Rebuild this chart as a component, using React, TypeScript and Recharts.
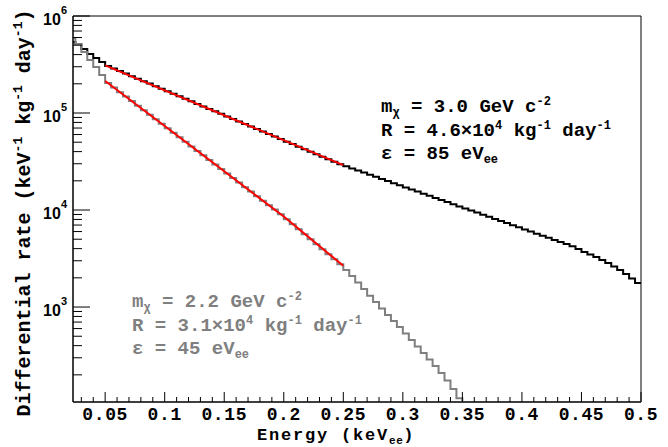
import React from 'react';
import { LineChart, Line, XAxis, YAxis, ReferenceArea } from 'recharts';

// ---- binning (histogram left edges) ----
const BIN_START = 0.02;
const BIN_WIDTH = 0.005;
const X_MIN = 0.023;
const X_MAX = 0.5;
const Y_MIN = 105;
const Y_MAX = 1000000;

// ---- series: differential rate per bin (keV^-1 kg^-1 day^-1) ----
const BLACK_RATE = [
  540000, 514000, 457000, 406000, 369000, 336000, 305000, 287000, 271000, 255000,
  240000, 226000, 213000, 201000, 189000, 178000, 168000, 158000, 149000, 140000,
  132000, 124000, 117000, 110000, 104000, 98000, 92300, 86900, 81900, 77100,
  72600, 68400, 64400, 60700, 57200, 53900, 50700, 47800, 45000, 42400,
  39900, 37600, 35400, 33400, 31400, 29600, 28200, 26800, 25500, 24300,
  23100, 22000, 20900, 19900, 18900, 18000, 17100, 16300, 15500, 14700,
  14000, 13300, 12700, 12100, 11500, 10900, 10400, 9890, 9410, 8950,
  8520, 8100, 7710, 7330, 6980, 6640, 6310, 6010, 5710, 5440,
  5170, 4920, 4680, 4460, 4240, 3960, 3690, 3480, 3280, 3050,
  2840, 2620, 2410, 2190, 1970, 1770,
];

const GRAY_RATE = [
  593000, 514000, 425000, 352000, 298000, 246000, 204000, 183000, 164000, 148000,
  133000, 119000, 107000, 96100, 86400, 77600, 69700, 62600, 56200, 50500,
  45300, 40700, 36600, 32800, 29500, 26500, 23800, 21400, 19200, 17200,
  15500, 13900, 12500, 11200, 10100, 9050, 8040, 7140, 6340, 5630,
  5000, 4440, 3940, 3500, 3110, 2760, 2410, 2090, 1790, 1530,
  1310, 1130, 965, 827, 717, 622, 533, 457, 392, 336,
  288, 247, 209, 175, 143, 115, 0, 0, 0, 0,
  0, 0, 0, 0, 0, 0, 0, 0, 0, 0,
  0, 0, 0, 0, 0, 0, 0, 0, 0, 0,
  0, 0, 0, 0, 0, 0,
];

// ---- exponential fits (red) ----
const FIT_BLACK_E = [0.05, 0.25];
const FIT_BLACK_RATE = [310000, 29000];
const FIT_GRAY_E = [0.05, 0.1, 0.15, 0.2, 0.25];
const FIT_GRAY_RATE = [214000, 73500, 25100, 8570, 2660];

// ---- ticks ----
const X_TICKS = [
  0.03, 0.04, 0.05, 0.06, 0.07, 0.08, 0.09, 0.1, 0.11, 0.12, 0.13, 0.14, 0.15, 0.16,
  0.17, 0.18, 0.19, 0.2, 0.21, 0.22, 0.23, 0.24, 0.25, 0.26, 0.27, 0.28, 0.29, 0.3,
  0.31, 0.32, 0.33, 0.34, 0.35, 0.36, 0.37, 0.38, 0.39, 0.4, 0.41, 0.42, 0.43, 0.44,
  0.45, 0.46, 0.47, 0.48, 0.49, 0.5,
];
const X_MAJOR = [0.05, 0.1, 0.15, 0.2, 0.25, 0.3, 0.35, 0.4, 0.45, 0.5];
const X_TICK_LABELS = ['0.05', '0.1', '0.15', '0.2', '0.25', '0.3', '0.35', '0.4', '0.45', '0.5'];
const Y_TICKS = [
  200, 300, 400, 500, 600, 700, 800, 900,
  1000, 2000, 3000, 4000, 5000, 6000, 7000, 8000, 9000,
  10000, 20000, 30000, 40000, 50000, 60000, 70000, 80000, 90000,
  100000, 200000, 300000, 400000, 500000, 600000, 700000, 800000, 900000,
  1000000,
];

// ---- annotation texts ----
const NOTE_BLACK = ['3.0', '4.6', '85'];
const NOTE_GRAY = ['2.2', '3.1', '45'];

const MONO = "'Liberation Mono', 'Courier New', monospace";
const SANS = "'Liberation Sans', Arial, Helvetica, sans-serif";
const GRAY = '#7f7f7f';

const HIST = BLACK_RATE.map((b, i) => ({
  e: +(BIN_START + i * BIN_WIDTH).toFixed(4),
  black: b,
  gray: Math.max(GRAY_RATE[i], Y_MIN),
}));
HIST.push({
  e: X_MAX,
  black: BLACK_RATE[BLACK_RATE.length - 1],
  gray: Math.max(GRAY_RATE[GRAY_RATE.length - 1], Y_MIN),
});

const FIT_BLACK = FIT_BLACK_E.map((e, i) => ({ e, fit: FIT_BLACK_RATE[i] }));
const FIT_GRAY = FIT_GRAY_E.map((e, i) => ({ e, fit: FIT_GRAY_RATE[i] }));

function XTick(props: any) {
  const { x, y, payload } = props;
  const v = payload.value;
  const idx = X_MAJOR.findIndex((m) => Math.abs(m - v) < 1e-6);
  const major = idx >= 0;
  return (
    <g>
      <line x1={x} x2={x} y1={y} y2={y - (major ? 10 : 5)} stroke="#000" strokeWidth={1} />
      {major && (
        <text x={x} y={y + 18} textAnchor="middle" fontFamily={MONO} fontWeight="bold" fontSize={18} letterSpacing={0.6} fill="#000">
          {X_TICK_LABELS[idx]}
        </text>
      )}
    </g>
  );
}

function YTick(props: any) {
  const { x, y, payload } = props;
  const v = payload.value;
  const exp = Math.round(Math.log10(v));
  const major = Math.abs(Math.pow(10, exp) - v) < 1e-6 * v;
  return (
    <g>
      <line x1={x} x2={x + (major ? 17 : 9)} y1={y} y2={y} stroke="#000" strokeWidth={1} />
      {major && (
        <text x={x - 6} y={y + 8.5} textAnchor="end" fontFamily={SANS} fontWeight="bold" fontSize={16} fill="#000">
          10<tspan fontSize={11} dy={-11}>{exp}</tspan>
        </text>
      )}
    </g>
  );
}

function Note({ x, y, color, vals }: { x: number; y: number; color: string; vals: string[] }) {
  const lh = 23.5;
  const sm = 12;
  const st = { whiteSpace: 'pre' as const };
  return (
    <g fill={color} fontFamily={MONO} fontWeight="bold" fontSize={19}>
      <text x={x} y={y} style={st}>
        m<tspan fontSize={sm} dy={4}>χ</tspan>
        <tspan dy={-4}>{' = ' + vals[0] + ' GeV c'}</tspan>
        <tspan fontSize={sm} dy={-7}>-2</tspan>
      </text>
      <text x={x} y={y + lh} style={st}>
        {'R = ' + vals[1] + '×10'}
        <tspan fontSize={sm} dy={-7}>4</tspan>
        <tspan dy={7}>{' kg'}</tspan>
        <tspan fontSize={sm} dy={-7}>-1</tspan>
        <tspan dy={7}>{' day'}</tspan>
        <tspan fontSize={sm} dy={-7}>-1</tspan>
      </text>
      <text x={x} y={y + 2 * lh} style={st}>
        {'ε = ' + vals[2] + ' eV'}
        <tspan fontSize={sm} dy={4}>ee</tspan>
      </text>
    </g>
  );
}

export default function App() {
  return (
    <div style={{ position: 'absolute', left: 0, top: 0, width: 668, height: 447, background: '#fff' }}>
      <LineChart width={668} height={447} data={HIST} margin={{ top: 16, right: 27, left: 0, bottom: 0 }}>
        <XAxis
          dataKey="e"
          type="number"
          domain={[X_MIN, X_MAX]}
          allowDataOverflow
          ticks={X_TICKS}
          interval={0}
          tick={<XTick />}
          tickLine={false}
          tickSize={0}
          tickMargin={0}
          axisLine={{ stroke: '#000', strokeWidth: 1 }}
          height={45}
        />
        <YAxis
          type="number"
          scale="log"
          domain={[Y_MIN, Y_MAX]}
          allowDataOverflow
          ticks={Y_TICKS}
          interval={0}
          tick={<YTick />}
          tickLine={false}
          tickSize={0}
          tickMargin={0}
          axisLine={{ stroke: '#000', strokeWidth: 1 }}
          width={73}
        />
        <ReferenceArea x1={X_MIN} x2={X_MAX} y1={Y_MIN} y2={Y_MAX} fill="none" fillOpacity={0} stroke="#000" strokeWidth={1} />
        <Line dataKey="black" type="stepAfter" stroke="#000" strokeWidth={2} dot={false} activeDot={false} isAnimationActive={false} />
        <Line dataKey="gray" type="stepAfter" stroke={GRAY} strokeWidth={2} dot={false} activeDot={false} isAnimationActive={false} />
        <Line data={FIT_BLACK} dataKey="fit" type="linear" stroke="#ff0000" strokeWidth={2} dot={false} activeDot={false} isAnimationActive={false} />
        <Line data={FIT_GRAY} dataKey="fit" type="linear" stroke="#ff0000" strokeWidth={2} dot={false} activeDot={false} isAnimationActive={false} />
      </LineChart>
      <svg width={668} height={447} style={{ position: 'absolute', left: 0, top: 0, pointerEvents: 'none' }}>
        <Note x={381} y={112} color="#000" vals={NOTE_BLACK} />
        <Note x={132} y={307} color={GRAY} vals={NOTE_GRAY} />
        <text x={257} y={440} fontFamily={MONO} fontWeight="bold" fontSize={17} letterSpacing={1.8} fill="#000" style={{ whiteSpace: 'pre' }}>
          {'Energy (keV'}
          <tspan fontSize={11} dy={4} letterSpacing={0.5}>ee</tspan>
          <tspan dy={-4}>)</tspan>
        </text>
        <text
          transform="translate(30, 213) rotate(-90)"
          textAnchor="middle"
          fontFamily={MONO}
          fontWeight="bold"
          fontSize={20}
          fill="#000"
          style={{ whiteSpace: 'pre' }}
        >
          {'Differential rate (keV'}
          <tspan fontSize={13} dy={-8}>-1</tspan>
          <tspan dy={8}>{' kg'}</tspan>
          <tspan fontSize={13} dy={-8}>-1</tspan>
          <tspan dy={8}>{' day'}</tspan>
          <tspan fontSize={13} dy={-8}>-1</tspan>
          <tspan dy={8}>)</tspan>
        </text>
      </svg>
    </div>
  );
}
